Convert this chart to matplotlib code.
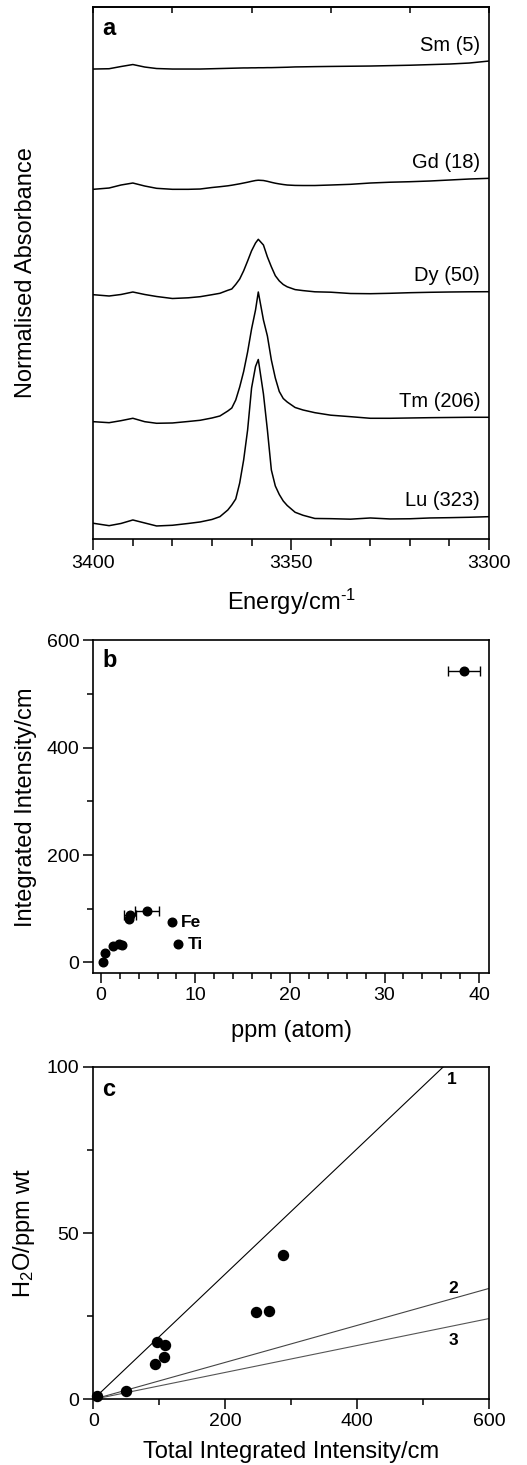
import numpy as np
import matplotlib
matplotlib.use("Agg")
import matplotlib.pyplot as plt
from matplotlib.ticker import MultipleLocator

plt.rcParams['font.family'] = ['Liberation Sans', 'DejaVu Sans']
plt.rcParams['mathtext.fontset'] = 'custom'
plt.rcParams['mathtext.rm'] = 'Liberation Sans'
plt.rcParams['mathtext.it'] = 'Liberation Sans:italic'
plt.rcParams['mathtext.bf'] = 'Liberation Sans:bold'
plt.rcParams['axes.linewidth'] = 1.2

# (a) IR spectra, stacked (absorbance in arbitrary units incl. offset)
energy = [3400, 3396, 3393, 3390, 3387, 3384, 3380, 3376, 3373, 3370, 3368, 3366, 3365,
          3364, 3363, 3362, 3361, 3360, 3359, 3358.3, 3357, 3356, 3355, 3354, 3353, 3352,
          3351, 3349, 3347, 3344, 3340, 3335, 3330, 3325, 3320, 3315, 3310, 3305, 3300]
sm = [471.0, 471.3, 473.5, 475.5, 473.0, 471.5, 471.0, 471.0, 471.0, 471.3, 471.5, 471.7, 471.8,
      471.9, 472.0, 472.1, 472.1, 472.2, 472.2, 472.3, 472.3, 472.4, 472.4, 472.5, 472.6, 472.7,
      472.8, 473.1, 473.2, 473.4, 473.6, 473.8, 474.0, 474.4, 474.8, 475.4, 476.0, 477.0, 479.0]
gd = [350.7, 352.0, 355.0, 357.0, 354.0, 351.7, 350.7, 350.7, 351.0, 352.5, 353.3, 354.2, 354.8,
      355.5, 356.2, 357.0, 357.8, 358.7, 359.5, 359.8, 359.5, 358.7, 357.7, 356.8, 356.1, 355.5,
      355.0, 354.6, 354.5, 354.5, 355.0, 355.7, 357.0, 357.8, 358.3, 359.0, 360.0, 361.0, 361.7]
dy = [245.3, 244.0, 245.5, 248.0, 245.5, 243.5, 241.5, 242.2, 243.3, 245.3, 246.7, 249.7, 251.0,
      255.6, 261.0, 269.2, 279.0, 289.2, 297.0, 300.7, 295.0, 283.1, 273.2, 264.3, 259.1, 255.5,
      253.2, 250.4, 249.4, 248.2, 247.8, 246.5, 246.3, 246.7, 247.3, 247.7, 248.0, 248.2, 248.3]
tm = [118.3, 117.3, 119.3, 121.7, 118.3, 116.7, 117.0, 118.5, 119.7, 122.0, 124.0, 129.0, 132.0,
      140.0, 153.0, 168.5, 188.0, 211.0, 230.0, 248.0, 220.0, 204.0, 180.0, 162.0, 148.5, 141.5,
      138.0, 132.5, 130.0, 127.3, 124.8, 123.3, 121.7, 121.7, 122.0, 122.3, 122.5, 122.7, 122.7]
lu = [16.7, 14.3, 16.5, 20.0, 17.0, 14.0, 14.7, 16.5, 18.0, 20.5, 23.3, 30.0, 35.0,
      41.0, 57.0, 80.0, 110.0, 152.0, 173.5, 180.5, 146.0, 110.0, 70.0, 54.0, 45.5, 39.0,
      34.5, 27.7, 24.7, 21.5, 21.3, 20.8, 22.0, 21.0, 21.2, 22.0, 22.3, 22.7, 23.3]
spectra = [sm, gd, dy, tm, lu]
spec_labels = ['Sm (5)', 'Gd (18)', 'Dy (50)', 'Tm (206)', 'Lu (323)']

# (b) integrated intensity vs concentration
ppm_atom = [38.4, 4.9, 3.1, 3.0, 7.5, 8.2, 1.3, 1.9, 2.2, 0.4, 0.2]
int_intensity = [542, 95, 88, 81, 75, 35, 31, 35, 32, 17, 1]
ppm_err = [1.7, 1.3, 0.6, 0, 0, 0, 0, 0, 0, 0, 0]

# (c) water content vs total integrated intensity
total_int = [5, 50, 93, 97, 109, 107, 246, 266, 288]
h2o_ppm = [1.0, 2.5, 10.7, 17.3, 16.3, 12.7, 26.2, 26.6, 43.3]
cal_slopes = [0.1884, 0.0556, 0.0405]
cal_names = ['1', '2', '3']
cal_colors = ['black', '#444444', '#555555']

fig = plt.figure(figsize=(5.27, 14.65), dpi=100)
axa = fig.add_axes([0.1770, 0.6319, 0.7509, 0.3635])
axb = fig.add_axes([0.1770, 0.3356, 0.7509, 0.2273])
axc = fig.add_axes([0.1770, 0.0448, 0.7509, 0.2270])

# ---- panel a
for s, lab in zip(spectra, spec_labels):
    axa.plot(energy, s, color='black', lw=1.1)
    axa.annotate(lab, xy=(energy[-1], s[-1]), xytext=(-9, 16), textcoords='offset pixels',
                 ha='right', va='center', fontsize=14.5)
axa.set_xlim(3400, 3300)
axa.set_ylim(0.7, 533.3)
axa.xaxis.set_major_locator(MultipleLocator(50))
axa.xaxis.set_minor_locator(MultipleLocator(10))
axa.tick_params(axis='x', which='major', direction='out', length=8, width=1.1, labelsize=14, pad=3.5)
axa.tick_params(axis='x', which='minor', direction='out', length=5, width=1.1)
axa.tick_params(axis='y', left=False, labelleft=False, which='both')
top = axa.secondary_xaxis('top')
top.xaxis.set_major_locator(MultipleLocator(20))
top.tick_params(direction='in', length=4, width=1.1, labeltop=False)
axa.set_xlabel(r'Energy/cm$^{\text{-1}}$', fontsize=17)
axa.xaxis.set_label_coords(0.5, -0.09)
axa.set_ylabel('Normalised Absorbance', fontsize=17)
axa.yaxis.set_label_coords(-0.142, 0.5)
axa.annotate('a', xy=(0, 1), xycoords='axes fraction', xytext=(9, -10),
             textcoords='offset pixels', fontsize=17, fontweight='bold', va='top')

# ---- panel b
axb.plot(ppm_atom, int_intensity, 'o', color='black', ms=6.2, zorder=3)
err = np.array(ppm_err) > 0
axb.errorbar(np.array(ppm_atom)[err], np.array(int_intensity)[err], xerr=np.array(ppm_err)[err],
             fmt='none', ecolor='black', elinewidth=1.0, capsize=3.6, capthick=1.0)
axb.text(8.5, 74, 'Fe', fontsize=12.5, fontweight='bold', ha='left', va='center')
axb.text(9.2, 33, 'Ti', fontsize=12.5, fontweight='bold', ha='left', va='center')
axb.set_xlim(-0.8, 41.05)
axb.set_ylim(-20.5, 600)
axb.xaxis.set_major_locator(MultipleLocator(10))
axb.xaxis.set_minor_locator(MultipleLocator(2))
axb.yaxis.set_major_locator(MultipleLocator(200))
axb.yaxis.set_minor_locator(MultipleLocator(100))
axb.tick_params(which='major', direction='out', length=7, width=1.1, labelsize=14, pad=3)
axb.tick_params(which='minor', direction='out', length=4, width=1.1)
axb.set_xlabel('ppm (atom)', fontsize=17)
axb.xaxis.set_label_coords(0.5, -0.14)
axb.set_ylabel('Integrated Intensity/cm', fontsize=17)
axb.yaxis.set_label_coords(-0.142, 0.5)
axb.annotate('b', xy=(0, 1), xycoords='axes fraction', xytext=(9, -9),
             textcoords='offset pixels', fontsize=17, fontweight='bold', va='top')

# ---- panel c
xfit = np.array([0, 600])
for k, name, col in zip(cal_slopes, cal_names, cal_colors):
    axc.plot(xfit, k * xfit, color=col, lw=0.8)
axc.plot(total_int, h2o_ppm, 'o', color='black', ms=7.2, zorder=3, clip_on=False)
axc.text(543, 96.3, '1', fontsize=12.5, fontweight='bold', ha='center', va='center')
axc.text(546, 33.2, '2', fontsize=12.5, fontweight='bold', ha='center', va='center')
axc.text(546, 17.8, '3', fontsize=12.5, fontweight='bold', ha='center', va='center')
axc.set_xlim(0, 600)
axc.set_ylim(0, 100)
axc.xaxis.set_major_locator(MultipleLocator(200))
axc.xaxis.set_minor_locator(MultipleLocator(100))
axc.yaxis.set_major_locator(MultipleLocator(50))
axc.yaxis.set_minor_locator(MultipleLocator(25))
axc.tick_params(which='major', direction='out', length=7, width=1.1, labelsize=14, pad=3)
axc.tick_params(which='minor', direction='out', length=4, width=1.1)
axc.set_xlabel('Total Integrated Intensity/cm', fontsize=17)
axc.xaxis.set_label_coords(0.5, -0.125)
axc.set_ylabel('H$_2$O/ppm wt', fontsize=17)
axc.yaxis.set_label_coords(-0.142, 0.5)
axc.annotate('c', xy=(0, 1), xycoords='axes fraction', xytext=(9, -11),
             textcoords='offset pixels', fontsize=17, fontweight='bold', va='top')

fig.savefig('out.png', dpi=100)
